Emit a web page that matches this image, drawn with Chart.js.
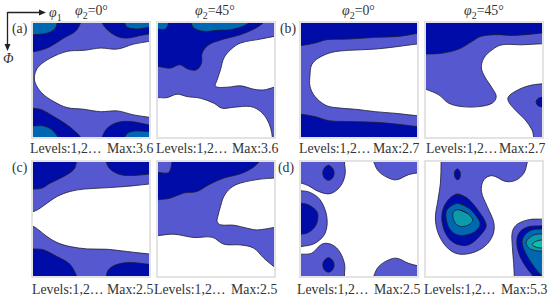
<!DOCTYPE html>
<html>
<head>
<meta charset="utf-8">
<script src="https://cdn.jsdelivr.net/npm/chart.js@4"></script>
<style>
  html, body { margin: 0; padding: 0; background: #fff; overflow: hidden; }
  body { width: 550px; height: 300px; position: relative; font-family: "Liberation Serif", serif; color: #333; }
  .frame { position: absolute; border: 2px solid #e3e3e3; background: #fff; }
  .frame canvas { display: block; }
  .t { position: absolute; white-space: nowrap; line-height: 1; font-size: 13.8px; }
  .t sub { font-size: 10px; line-height: 0; }
  svg { position: absolute; left: 0; top: 0; }
</style>
</head>
<body>
<svg width="60" height="60">
  <path d="M7.5 12.5H40M7.5 12V45" stroke="#222" stroke-width="1.3" fill="none"/>
  <path d="M39 9.5L46 12.5L39 15.5Z M4.5 44L7.5 51L10.5 44Z" fill="#222"/>
</svg>
<script>
// contour colours, lowest level to highest
const white = "#ffffff", level1 = "#5558cf", level2 = "#000ca8", level3 = "#0068b2", level4 = "#0b9bab", level5 = "#08bfae";

// contours as [phi1, PHI] in degrees
const fullBox = [[-6,-6],[96,-6],[96,96],[-6,96]];

// (a) phi2=0
const a0White = [[100,12],[90,14.5],[78.3,16.6],[65.4,20.6],[52.4,19.8],[39.4,21.6],[26.5,22.4],[13.5,27.7],[4.4,34.3],[1.3,40.9],[1.8,47.5],[7,55.4],[16.1,62],[26.5,66.8],[39.4,68.1],[52.4,70],[65.4,69.4],[78.3,72.6],[90,74.4],[100,76]];
const a0DarkTL = [[38,-6],[36.8,0],[32.9,6.6],[23.9,11.9],[13.5,18.5],[5.7,21.6],[0,22.7],[-6,23],[-6,-6]];
const a0BlueTL = [[20,-6],[18.7,0],[17.4,4],[13.5,7.1],[7,8.7],[0,9.2],[-6,9.4],[-6,-6]];
const a0DarkTR = [[52,-6],[53.7,0],[57.6,5.3],[65.4,10.6],[73.2,11.9],[83.6,9.8],[90,8.7],[96,8],[96,-6]];
const a0BlueTR = [[69,-6],[71.1,0],[73.2,3.4],[80.9,4.7],[90,3.2],[96,2.5],[96,-6]];
const a0DarkBL = [[-6,67],[0,67.3],[7,68.6],[16.1,73.9],[26.5,80.5],[32.9,85.8],[36.8,90],[39,96],[-6,96]];
const a0BlueBL = [[-6,81.3],[0,81.3],[8.3,81.3],[14.8,84.4],[19.2,90],[21,96],[-6,96]];
const a0DarkBR = [[52,96],[53.7,90],[57.6,83.1],[65.4,78.6],[75.8,77.8],[90,80.5],[96,82],[96,96]];
const a0BlueBR = [[69,96],[71.1,90],[74.5,86.3],[80.9,85.2],[90,85.8],[96,86],[96,96]];

// (a) phi2=45
const a45WhiteTop = [[100,9],[90,10.6],[79.6,12.7],[64.1,15.8],[56.3,21.1],[51.1,27.7],[48.5,36.9],[45.9,44.9],[44.6,50.1],[53.7,50.7],[64.1,49.6],[74.4,52.3],[82.2,52.8],[90,50.7],[100,48]];
const a45WhiteLow = [[-6,58.9],[0,58.9],[7,58.9],[14.8,56.2],[22.6,58.1],[32.9,59.4],[43.3,63.3],[49.8,67.3],[58.9,66.5],[71.9,66],[79.6,69.9],[84.8,76.5],[87.4,83.1],[88.7,90],[89,96],[-6,96]];
const a45Dark = [[85,-6],[81.5,0],[74.4,4.8],[64.1,9.2],[51.1,12.7],[39.4,17.2],[34.2,23.8],[33.7,31.7],[29.8,37],[23.3,36.4],[16.9,33],[9.6,35.6],[0,34.3],[-6,34],[-6,-6]];
const a45Blue = [[24,-6],[25.7,0],[27.8,4],[35.5,6.6],[45.9,5.8],[58.9,4.8],[70.6,0],[74,-6]];
const a45Corner = [[-6,4.8],[0,4.8],[5.7,4.8],[8.3,0],[9,-6],[-6,-6]];

// (b) phi2=0
const b0DarkTop = [[-6,18.5],[0,17.9],[10.9,15.8],[20,13.2],[36.8,12.7],[57.6,11.3],[75.8,10.6],[90,8.2],[96,7.5],[96,-6],[-6,-6]];
const b0White = [[100,16],[90,16.6],[75.8,18.5],[57.6,20.6],[36.8,21.6],[23.8,23.2],[13.5,27.7],[8.3,33],[7,40.9],[7,50.1],[10.9,58.1],[18.7,64.7],[26.5,66.8],[42.1,68.1],[57.6,70],[73.2,71.3],[90,73.2],[100,74]];
const b0DarkLow = [[-6,71.5],[0,72],[10.9,73.9],[21.3,77.1],[36.8,77.8],[57.6,78.4],[73.2,79.7],[90,81.8],[96,82.5],[96,96],[-6,96]];

// (b) phi2=45
const b45Main = [[96,16.4],[90,16.4],[74.4,17.2],[59,17.2],[51.4,21.1],[44.9,27.7],[43,35.6],[46.2,43.5],[51.4,51.5],[54.5,58.1],[51.4,63.3],[41,66],[28,66],[17.6,63.3],[9.9,56.7],[0,52.3],[-6,50],[-6,-6],[96,-6]];
const b45Lobe = [[96,48],[90,48],[79.6,49.6],[70.5,53.3],[64,58.1],[64,62],[69.2,68.6],[77,76.5],[82.2,84.4],[83.5,90],[84,96],[96,96]];
const b45Spot = [[96,58.5],[90,58.7],[87.2,59.5],[85.4,62.3],[87.2,65.5],[90,66.2],[96,66.4]];
const b45Dark = [[-6,24.6],[0,24.5],[12.5,23.8],[25.4,20.6],[35.8,14.5],[42.3,10.6],[54,9.2],[69.5,9.8],[90,7.9],[96,7.5],[96,-6],[-6,-6]];

// (c) phi2=0
const c0White = [[100,16.5],[90,17.4],[78.4,18.7],[65.4,19.8],[52.4,20.6],[39.4,21.4],[29,23.2],[18.7,27.2],[10.9,32.5],[4.4,37.2],[0,39.3],[-6,41],[-6,49],[0,50.7],[4.4,53.6],[10.9,58.9],[18.7,63.6],[29,66.8],[42.1,68.6],[57.6,68.9],[73.2,70.7],[90,72.6],[100,73.5]];
const c0DarkTL = [[34.5,-6],[33.7,0],[31.6,6],[23.9,11.4],[13.5,16.6],[7,20.6],[0,21.4],[-6,21.6],[-6,-6]];
const c0DarkTR = [[56,-6],[56.8,0],[60.2,6],[68,10],[78.4,10.6],[90,9.5],[96,9],[96,-6]];
const c0DarkBL = [[-6,68.3],[0,68.6],[8.3,69.4],[18.7,74.7],[27.8,80],[31.6,85.2],[33.7,90],[34.5,96],[-6,96]];
const c0DarkBR = [[56,96],[56.8,90],[58.9,84.7],[65.4,80.8],[75.8,79.4],[90,80.8],[96,81.5],[96,96]];

// (c) phi2=45
const c45WhiteTop = [[100,12],[90,12.7],[79.6,13.5],[64.1,16.6],[56.3,20.6],[51.1,27.2],[48.5,35.1],[46.4,43],[45.9,47],[48.5,49.6],[58.9,49.9],[69.2,52.3],[77,53.6],[90,51.7],[100,50]];
const c45WhiteLow = [[-6,58.3],[0,58.1],[12.2,57],[27.8,59.6],[42,59.4],[51.1,64.9],[64.1,65.5],[74.4,68.1],[82.2,76],[90,82.6],[98,88],[98,96],[-6,96]];
const c45Dark = [[83,-6],[78.3,0],[73.1,4.8],[64.1,9.2],[51.1,12.7],[39.4,18],[30.4,23.2],[20,24.5],[9.6,28.5],[0,29.8],[-6,30],[-6,-6]];
const c45Corner = [[-6,8.2],[0,8.2],[8.3,8.2],[10.9,0],[11.5,-6],[-6,-6]];

// (d) phi2=0
const d0LobeTL = [[33.5,-6],[33.7,0],[34.2,10],[30.4,19.3],[22.6,25],[13.5,23.2],[5.7,18.7],[0,16.6],[-6,15],[-6,-6]];
const d0SpotT = [[21.3,2.6],[24.4,4.8],[25.7,8.7],[24.4,12.7],[21.3,14.5],[18.2,12.7],[16.9,8.7],[18.2,4.8],[21.3,2.6],[24.4,4.8]];
const d0LobeL = [[-6,22.5],[0,22.7],[7,24],[14.8,29.8],[20,43],[18.7,56.2],[10.9,64.1],[0,66.8],[-6,67]];
const d0DarkL = [[-6,32],[0,32.5],[5.7,33.8],[12.2,39],[13,44.9],[10.9,51],[5.7,55.7],[0,57],[-6,57.5]];
const d0LobeBL = [[-6,73],[0,72.8],[8.3,72],[16.1,64.9],[22.6,64.7],[29,69.4],[33.7,80],[33.7,90],[33.7,96],[-6,96]];
const d0SpotB = [[21.3,75.5],[24.4,77.6],[25.7,81.3],[24.4,85.2],[21.3,87],[18.2,85.2],[16.9,81.3],[18.2,77.6],[21.3,75.5],[24.4,77.6]];
const d0LobeTR = [[55,-6],[56.5,0],[60.2,7.4],[68,12.7],[74.4,14],[83.5,10],[90,8.7],[96,8],[96,-6]];
const d0LobeBR = [[55,96],[56.5,90],[60.2,82.6],[68,77.3],[74.4,76],[83.5,80],[90,81.8],[96,82.5],[96,96]];

// (d) phi2=45
const d45Main = [[80,-6],[78.6,0],[76,8.7],[69.5,14.5],[61.7,15.3],[51.4,10.8],[44.9,14],[43,23.2],[47.5,35.1],[52.7,48.3],[51.4,58.9],[43.6,68.1],[30.6,72.8],[20.2,70.7],[11.2,60.2],[7.3,45.7],[9.3,29.8],[11.2,16.6],[11.7,0],[11.7,-6]];
const d45Spot = [[24.4,5.5],[26.2,7.4],[26.7,10],[25.9,13.2],[24.4,14],[22.8,12.7],[22,9.2],[22.8,6.6],[24.4,5.5],[26.2,7.4]];
const d45Dark = [[24.1,25.3],[31.9,28.5],[41,39],[46.7,49.6],[43.6,56.2],[33.2,65.4],[24.1,64.9],[17.6,60.2],[13.2,50.9],[12.5,40.4],[16.3,31.1],[24.1,25.3],[31.9,28.5]];
const d45Blue = [[24.9,32.5],[33.2,36.4],[41,45.7],[41.5,50.9],[35.8,56.2],[25.4,57.8],[18.9,53.6],[15.8,45.7],[16.3,37.7],[24.9,32.5],[33.2,36.4]];
const d45Teal = [[25.4,37.7],[31.9,40.4],[36.3,45.7],[33.2,49.6],[26.7,50.9],[22.8,48.3],[20.8,43],[21.5,39.1],[25.4,37.7],[31.9,40.4]];
const d45LobeR = [[96,45],[90,45.1],[80,45.5],[71,49],[67,55],[67,67],[68,80],[68.5,90],[69,96],[96,96]];
const d45DarkR = [[96,50.2],[90,50.4],[80,51],[73,55],[70.5,62],[72,72],[77,82],[83,90],[87,96],[96,96]];
const d45BlueR = [[96,52.7],[90,52.9],[82.2,53.6],[76.8,57.5],[74.5,63],[77.3,72],[83.8,82.6],[90,90],[96,96]];
const d45TealR = [[96,56.6],[90,56.8],[84,57.5],[79,61],[77.6,64],[80,68],[85,70],[90,70.5],[96,70.8]];
const d45CyanR = [[96,61.3],[90,61.5],[85.5,62.5],[82.5,65],[85.5,67.3],[90,67.9],[96,68.1]];

// each panel lists its shapes bottom to top
const panels = [
  { left: 33, top: 23, shapes: [[fullBox, level1], [a0White, white], [a0DarkTL, level2], [a0BlueTL, level3], [a0DarkTR, level2], [a0BlueTR, level3], [a0DarkBL, level2], [a0BlueBL, level3], [a0DarkBR, level2], [a0BlueBR, level3]] },
  { left: 158, top: 23, shapes: [[fullBox, level1], [a45WhiteTop, white], [a45WhiteLow, white], [a45Dark, level2], [a45Blue, level3], [a45Corner, level3]] },
  { left: 301, top: 23, shapes: [[fullBox, level1], [b0White, white], [b0DarkTop, level2], [b0DarkLow, level2]] },
  { left: 426, top: 23, shapes: [[b45Main, level1], [b45Lobe, level1], [b45Spot, level2], [b45Dark, level2]] },
  { left: 33, top: 162, shapes: [[fullBox, level1], [c0White, white], [c0DarkTL, level2], [c0DarkTR, level2], [c0DarkBL, level2], [c0DarkBR, level2]] },
  { left: 158, top: 162, shapes: [[fullBox, level1], [c45WhiteTop, white], [c45WhiteLow, white], [c45Dark, level2], [c45Corner, level1]] },
  { left: 301, top: 162, shapes: [[d0LobeTL, level1], [d0SpotT, level2], [d0LobeL, level1], [d0DarkL, level2], [d0LobeBL, level1], [d0SpotB, level2], [d0LobeTR, level1], [d0LobeBR, level1]] },
  { left: 426, top: 162, shapes: [[d45Main, level1], [d45Spot, level2], [d45Dark, level2], [d45Blue, level3], [d45Teal, level4], [d45LobeR, level1], [d45DarkR, level2], [d45BlueR, level3], [d45TealR, level4], [d45CyanR, level5]] }
];

const phi2 = '<i>φ</i><sub>2</sub>';
// text, left, top
const labels = [
  ['<i>φ</i><sub>1</sub>', 49, 6],
  [phi2 + '=0°', 75, 4], [phi2 + '=45°', 195, 4], [phi2 + '=0°', 342, 4], [phi2 + '=45°', 464, 4],
  ['<i>Φ</i>', 3, 52],
  ['(a)', 12, 22], ['(b)', 280, 22], ['(c)', 12, 161], ['(d)', 278, 161],
  ['Levels:1,2…', 30, 142], ['Max:3.6', 107, 142], ['Levels:1,2…', 156, 142], ['Max:3.6', 232, 142],
  ['Levels:1,2…', 299, 142], ['Max:2.7', 373, 142], ['Levels:1,2…', 426, 142], ['Max:2.7', 499, 142],
  ['Levels:1,2…', 32, 283], ['Max:2.5', 107, 283], ['Levels:1,2…', 154, 283], ['Max:2.5', 231, 283],
  ['Levels:1,2…', 297, 283], ['Max:2.5', 374, 283], ['Levels:1,2…', 424, 283], ['Max:5.3', 501, 283]
];

labels.forEach(([html, x, y]) => {
  const d = document.createElement("div");
  d.className = "t";
  d.innerHTML = html;
  d.style.left = x + "px";
  d.style.top = y + "px";
  document.body.appendChild(d);
});

panels.forEach(panel => {
  const frame = document.createElement("div");
  frame.className = "frame";
  frame.style.left = (panel.left - 2) + "px";
  frame.style.top = (panel.top - 2) + "px";
  const canvas = document.createElement("canvas");
  canvas.width = 116;
  canvas.height = 114;
  frame.style.width = "116px";
  frame.style.height = "114px";
  frame.appendChild(canvas);
  document.body.appendChild(frame);

  // Chart.js paints the first dataset last, so flip the list
  const datasets = panel.shapes.slice().reverse().map(([pts, color]) => ({
    data: pts.map(p => ({ x: p[0], y: p[1] })),
    showLine: true,
    fill: "shape",
    backgroundColor: color,
    borderColor: "#1c1c30",
    borderWidth: pts === fullBox ? 0 : 0.8,
    tension: pts === fullBox ? 0 : 0.35,
    capBezierPoints: false,
    pointRadius: 0
  }));

  new Chart(canvas, {
    type: "scatter",
    data: { datasets: datasets },
    options: {
      responsive: false,
      animation: false,
      events: [],
      layout: { padding: 0 },
      plugins: { legend: { display: false }, tooltip: { enabled: false } },
      scales: {
        x: { type: "linear", min: 0, max: 90, display: false },
        y: { type: "linear", min: 0, max: 90, reverse: true, display: false }
      }
    }
  });
});
</script>
</body>
</html>
